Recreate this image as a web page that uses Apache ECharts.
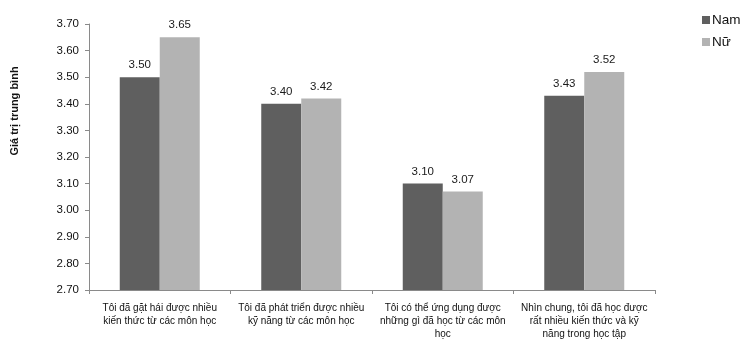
<!DOCTYPE html>
<html>
<head>
<meta charset="utf-8">
<script src="https://cdn.jsdelivr.net/npm/echarts@6/dist/echarts.min.js"></script>
<style>
  html, body { margin: 0; padding: 0; background: #fff; }
  #chart { width: 740px; height: 341px; }
</style>
</head>
<body>
<div id="chart"></div>
<script>
// Survey statements (x-axis categories)
const categories = [
  'Tôi đã gặt hái được nhiều\nkiến thức từ các môn học',
  'Tôi đã phát triển được nhiều\nkỹ năng từ các môn học',
  'Tôi có thể ứng dụng được\nnhững gì đã học từ các môn\nhọc',
  'Nhìn chung, tôi đã học được\nrất nhiều kiến thức và kỹ\nnăng trong học tập'
];
// Mean scores by gender
const namValues = [3.50, 3.40, 3.10, 3.43];
const nuValues = [3.65, 3.42, 3.07, 3.52];
const seriesNames = ['Nam', 'Nữ'];
const yTitle = 'Giá trị trung bình';

const font = 'Liberation Sans, Arial, sans-serif';
const chart = echarts.init(document.getElementById('chart'), null, { renderer: 'canvas' });

const barLabel = {
  show: true,
  position: 'top',
  distance: 6,
  fontFamily: font,
  fontSize: 11.5,
  color: '#1a1a1a',
  formatter: p => p.value.toFixed(2)
};

chart.setOption({
  animation: false,
  backgroundColor: '#fff',
  grid: { left: 89, right: 85, top: 24, bottom: 46, containLabel: false },
  legend: {
    orient: 'vertical',
    left: 702,
    top: 13,
    padding: 0,
    itemWidth: 8,
    itemHeight: 8,
    itemGap: 8,
    icon: 'rect',
    textStyle: { fontFamily: font, fontSize: 13.5, color: '#111', padding: [0, 0, 0, -3] },
    data: seriesNames
  },
  graphic: [{
    type: 'text',
    x: 15,
    y: 111,
    rotation: Math.PI / 2,
    style: {
      text: yTitle,
      font: 'bold 11px ' + font,
      fill: '#111',
      align: 'center',
      verticalAlign: 'middle'
    }
  }],
  xAxis: {
    type: 'category',
    data: categories,
    axisLine: { lineStyle: { color: '#8a8a8a', width: 1 } },
    axisTick: { show: true, alignWithLabel: false, length: 4, lineStyle: { color: '#8a8a8a' } },
    axisLabel: {
      interval: 0,
      margin: 12,
      fontFamily: font,
      fontSize: 10,
      lineHeight: 13,
      color: '#111'
    }
  },
  yAxis: {
    type: 'value',
    min: 2.7,
    max: 3.7,
    interval: 0.1,
    axisLine: { show: true, lineStyle: { color: '#8a8a8a', width: 1 } },
    axisTick: { show: true, length: 4, lineStyle: { color: '#8a8a8a' } },
    splitLine: { show: false },
    axisLabel: {
      margin: 10,
      fontFamily: font,
      fontSize: 11.5,
      color: '#111',
      formatter: v => v.toFixed(2)
    }
  },
  series: [
    {
      name: seriesNames[0],
      type: 'bar',
      data: namValues,
      barWidth: 40,
      barGap: '0%',
      itemStyle: { color: '#5f5f5f' },
      label: barLabel
    },
    {
      name: seriesNames[1],
      type: 'bar',
      data: nuValues,
      barWidth: 40,
      itemStyle: { color: '#b3b3b3' },
      label: barLabel
    }
  ]
});
</script>
</body>
</html>
